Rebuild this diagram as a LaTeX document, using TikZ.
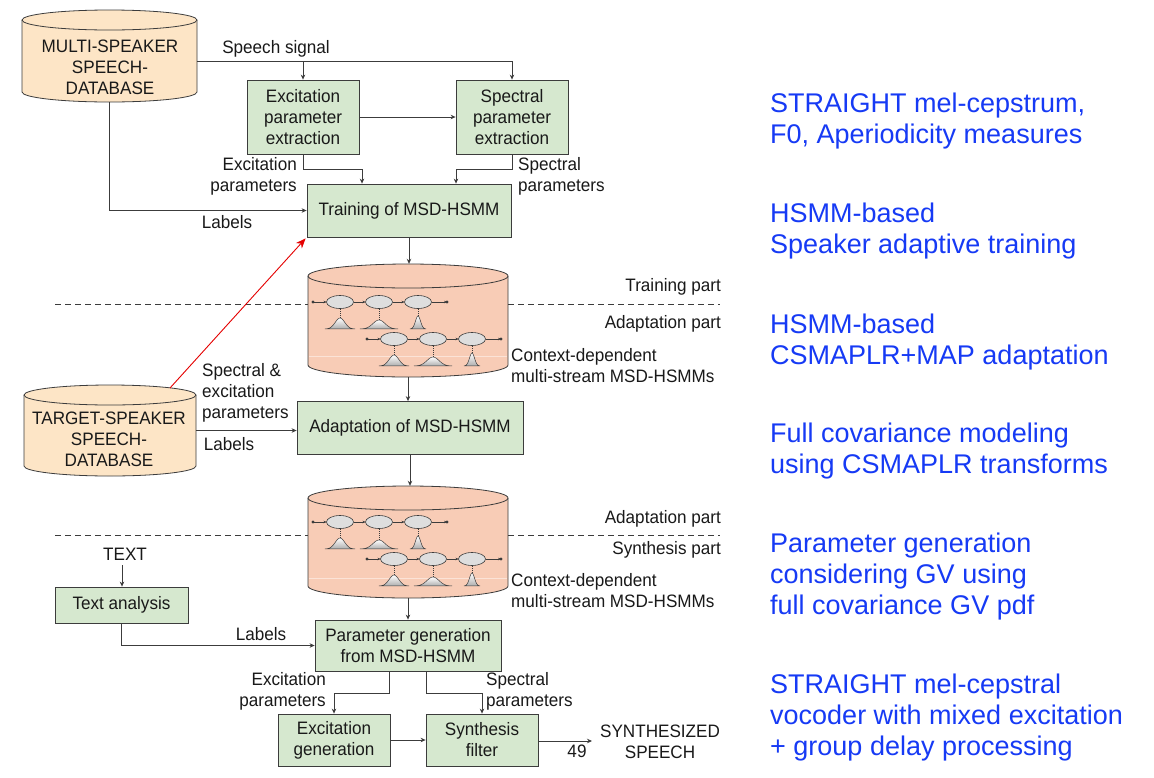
\documentclass[tikz,border=0pt]{standalone}
\usepackage{fontspec}
\setmainfont{Liberation Sans}
\newfontfamily\diafont[FakeStretch=0.95]{Liberation Sans}
\usetikzlibrary{arrows.meta}
\definecolor{dbfill}{RGB}{253,229,198}
\definecolor{hmmfill}{RGB}{248,204,182}
\definecolor{boxfill}{RGB}{214,232,207}
\definecolor{linecol}{RGB}{60,60,60}
\definecolor{bluetxt}{RGB}{22,58,245}
\definecolor{stategray}{RGB}{222,222,222}

% cylinder: xl, xr, ytop, ybottom (positive down), ry, fill
\newcommand\drawcyl[6]{%
  \pgfmathsetmacro\cylrx{(#2-#1)/2}%
  \filldraw[draw=linecol, line width=0.8pt, fill=#6] (#1,-#3-#5) -- (#1,-#4+#5)
     arc[start angle=180, end angle=360, x radius=\cylrx, y radius=#5]
     -- (#2,-#3-#5)
     arc[start angle=0, end angle=180, x radius=\cylrx, y radius=#5] -- cycle;
  \draw[draw=linecol, line width=0.8pt] (#1,-#3-#5)
     arc[start angle=180, end angle=360, x radius=\cylrx, y radius=#5];
}
% gaussian: cx, base y (positive down), half width, height
\newcommand\hmmgauss[4]{%
  \draw[gaus] plot[domain=-1:1, samples=31, smooth] ({#1+#3*\x},{-(#2)+#4*exp(-5*\x*\x)}) -- cycle;
  \draw[linecol, line width=0.6pt, dash pattern=on 1pt off 1pt] (#1,-#2+#4+0.5) -- ++(0,{20-#4});
}
% hmm chain: x of start dot, y (positive down)
\newcommand\hmmchain[2]{%
  \pgfmathsetmacro\hmmY{-(#2)}%
  \pgfmathsetmacro\hmmA{#1+27}%
  \pgfmathsetmacro\hmmB{#1+66}%
  \pgfmathsetmacro\hmmC{#1+105}%
  \pgfmathsetmacro\hmmE{#1+134}%
  \pgfmathsetmacro\hmmG{#2+27}%
  \hmmgauss{\hmmA}{\hmmG}{15}{11}
  \hmmgauss{\hmmB}{\hmmG}{19}{9}
  \hmmgauss{\hmmC}{\hmmG}{8}{13}
  \fill[linecol] (#1,\hmmY) circle[radius=1.7];
  \fill[linecol] (\hmmE,\hmmY) circle[radius=1.7];
  \draw[chainarr] (#1,\hmmY) -- (\hmmA-13.5,\hmmY);
  \draw[chainarr] (\hmmA+13.5,\hmmY) -- (\hmmB-13.5,\hmmY);
  \draw[chainarr] (\hmmB+13.5,\hmmY) -- (\hmmC-13.5,\hmmY);
  \draw[chainarr] (\hmmC+13.5,\hmmY) -- (\hmmE,\hmmY);
  \filldraw[state] (\hmmA,\hmmY) ellipse[x radius=13.5, y radius=6.5];
  \filldraw[state] (\hmmB,\hmmY) ellipse[x radius=13.5, y radius=6.5];
  \filldraw[state] (\hmmC,\hmmY) ellipse[x radius=13.5, y radius=6.5];
}

\begin{document}
\begin{tikzpicture}[x=1pt,y=1pt,
  lab/.style={font=\diafont\fontsize{18}{21}\selectfont, inner sep=0pt, text=black!90},
  procbox/.style={lab, draw=linecol, fill=boxfill, line width=0.8pt, align=center},
  cylnode/.style={inner sep=0pt, draw=none},
  arr/.style={draw=linecol, line width=0.8pt, -{Stealth[length=5pt,width=4.5pt]}},
  redarr/.style={draw=red!90!black, line width=0.9pt, -{Stealth[length=10pt,width=8pt]}},
  dashline/.style={draw=linecol, line width=0.7pt, dash pattern=on 6pt off 4pt},
  bluenote/.style={font=\fontsize{27}{31}\selectfont, text=bluetxt, anchor=west, align=left, inner sep=0pt},
  chainarr/.style={draw=linecol, line width=0.6pt, -{Stealth[length=3pt,width=2.6pt]}},
  gaus/.style={draw=linecol, line width=0.5pt, top color=white, bottom color=black!32},
  state/.style={draw=linecol, line width=0.6pt, fill=stategray},
]
\useasboundingbox (0,0) rectangle (1154,-777);
\fill[white] (0,0) rectangle (1154,-777);

% ---------- cylinders ----------
\drawcyl{22}{197}{10}{102}{10}{dbfill}
\drawcyl{24}{196}{385}{476}{10}{dbfill}
\drawcyl{308}{508}{264}{377}{12}{hmmfill}
\drawcyl{308}{508}{486}{598}{12}{hmmfill}
\draw[hmmfill!55!white, line width=0.6pt] (309,-356) -- (507,-356);
\draw[hmmfill!55!white, line width=0.6pt] (309,-578) -- (507,-578);

\node[cylnode, minimum width=175pt, minimum height=92pt] (db1) at (109.5,-56) {};
\node[cylnode, minimum width=172pt, minimum height=91pt] (db2) at (110,-430.5) {};
\node[cylnode, minimum width=200pt, minimum height=113pt] (hc1) at (408,-320.5) {};
\node[cylnode, minimum width=200pt, minimum height=112pt] (hc2) at (408,-542) {};

\node[lab, align=center] (db1t) at (110,-67.5) {MULTI-SPEAKER\\SPEECH-\\DATABASE};
\node[lab, align=center] (db2t) at (109,-439.5) {TARGET-SPEAKER\\SPEECH-\\DATABASE};

% ---------- HMM chains ----------
\hmmchain{313}{302}
\hmmchain{367}{339}
\hmmchain{313}{522}
\hmmchain{367}{559}

% ---------- dashed separators ----------
\draw[dashline] (55,-304) -- (308,-304);
\draw[dashline] (508,-304) -- (720,-304);
\draw[dashline] (55,-535) -- (308,-535);
\draw[dashline] (508,-535) -- (720,-535);

% ---------- process boxes ----------
\node[procbox, minimum width=112pt, minimum height=74pt] (exc) at (303,-117) {Excitation\\parameter\\extraction};
\node[procbox, minimum width=112pt, minimum height=74pt] (spec) at (512,-117) {Spectral\\parameter\\extraction};
\node[procbox, minimum width=204pt, minimum height=53pt] (train) at (409,-210.5) {Training of MSD-HSMM};
\node[procbox, minimum width=226pt, minimum height=53pt] (adapt) at (410,-428) {Adaptation of MSD-HSMM};
\node[procbox, minimum width=133pt, minimum height=36pt] (ta) at (121.5,-605) {Text analysis};
\node[procbox, minimum width=186pt, minimum height=51pt] (pg) at (408,-645.5) {Parameter generation\\from MSD-HSMM};
\node[procbox, minimum width=112pt, minimum height=52pt] (eg) at (334,-740) {Excitation\\generation};
\node[procbox, minimum width=112pt, minimum height=52pt] (sf) at (482,-740) {Synthesis\\filter};

\node[lab] (txt) at (125,-554) {TEXT};

% ---------- connectors ----------
\coordinate (speechy) at (0,-61);
\draw[arr] ([yshift=-5pt]db1.east) -| (spec.north);
\draw[arr] (exc.north |- speechy) -- (exc.north);
\draw[arr] (exc.east) -- (spec.west);
\draw[arr] (exc.south) -- ++(0,-15) -| ([xshift=-47pt]train.north);
\draw[arr] (spec.south) -- ++(0,-15) -| ([xshift=47pt]train.north);
\draw[arr] (db1.south) |- (train.west);
\draw[arr] (train.south) -- (train.south |- hc1.north);
\draw[arr] (hc1.south) -- (hc1.south |- adapt.north);
\draw[arr] (db2.east) -- (db2.east -| adapt.west);
\draw[arr] (adapt.south) -- (adapt.south |- hc2.north);
\draw[arr] (hc2.south) -- (hc2.south |- pg.north);
\coordinate (redstart) at (170,-388);
\draw[redarr] (redstart) -- ([xshift=-1pt,yshift=-1pt]train.south west);
\draw[arr] ([xshift=-3pt,yshift=-5pt]txt.south) -- ([xshift=-3pt]txt.south |- ta.north);
\draw[arr] (ta.south) |- (pg.west);
\draw[arr] ([xshift=-19pt]pg.south) -- ++(0,-22) -| (eg.north);
\draw[arr] ([xshift=18pt]pg.south) -- ++(0,-22) -| (sf.north);
\draw[arr] (eg.east) -- (sf.west);
\coordinate (outend) at (592,-741);
\draw[arr] (sf.east |- outend) -- (outend);

% ---------- labels ----------
\node[lab] at (276,-49) {Speech signal};
\node[lab, anchor=east, align=right] at (297,-176.5) {Excitation\\parameters};
\node[lab, anchor=west, align=left] at (518,-176.5) {Spectral\\parameters};
\node[lab] at (227,-222) {Labels};
\node[lab, anchor=east] at (721,-287) {Training part};
\node[lab, anchor=east] at (721,-324) {Adaptation part};
\node[lab, anchor=west, align=left] at (511,-365.5) {Context-dependent\\multi-stream MSD-HSMMs};
\node[lab, anchor=west, align=left] at (202,-393) {Spectral \&\\excitation\\parameters};
\node[lab] at (229,-444) {Labels};
\node[lab, anchor=east] at (721,-519) {Adaptation part};
\node[lab, anchor=east] at (721,-550) {Synthesis part};
\node[lab, anchor=west, align=left] at (511,-590.5) {Context-dependent\\multi-stream MSD-HSMMs};
\node[lab] at (261,-634) {Labels};
\node[lab, anchor=east, align=right] at (326,-691.5) {Excitation\\parameters};
\node[lab, anchor=west, align=left] at (486,-691.5) {Spectral\\parameters};
\node[lab] at (577,-751) {49};
\node[lab, align=center] at (660,-742) {SYNTHESIZED\\SPEECH};

% ---------- blue notes ----------
\node[bluenote] at (770,-121.5) {STRAIGHT mel-cepstrum,\\F0, Aperiodicity measures};
\node[bluenote] at (770,-231.5) {HSMM-based\\Speaker adaptive training};
\node[bluenote] at (770,-342) {HSMM-based\\CSMAPLR+MAP adaptation};
\node[bluenote] at (770,-451) {Full covariance modeling\\using CSMAPLR transforms};
\node[bluenote] at (770,-576.5) {Parameter generation\\considering GV using\\full covariance GV pdf};
\node[bluenote] at (770,-718) {STRAIGHT mel-cepstral\\vocoder with mixed excitation\\+ group delay processing};
\end{tikzpicture}
\end{document}
